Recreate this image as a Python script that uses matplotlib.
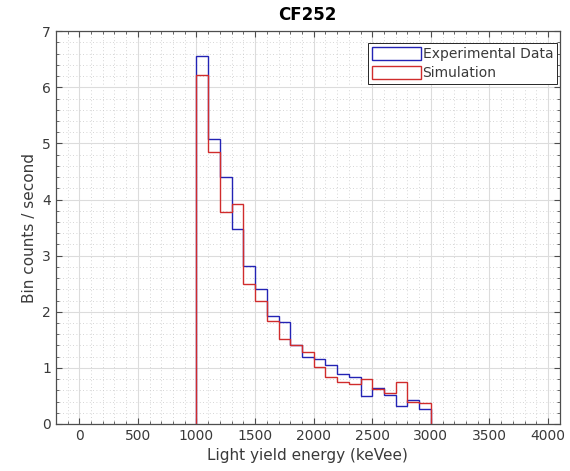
import numpy as np
import matplotlib
matplotlib.use("Agg")
import matplotlib.pyplot as plt
from matplotlib.patches import Patch
from matplotlib.ticker import MultipleLocator

# bin edges (keVee) and per-bin rates
bin_edges = [1000, 1100, 1200, 1300, 1400, 1500, 1600, 1700, 1800, 1900, 2000,
             2100, 2200, 2300, 2400, 2500, 2600, 2700, 2800, 2900, 3000]
experimental = [6.55, 5.07, 4.40, 3.47, 2.82, 2.40, 1.93, 1.82, 1.40, 1.20,
                1.16, 1.05, 0.89, 0.84, 0.49, 0.65, 0.52, 0.32, 0.42, 0.26]
simulation = [6.22, 4.84, 3.78, 3.92, 2.49, 2.20, 1.84, 1.51, 1.40, 1.28,
              1.01, 0.84, 0.75, 0.71, 0.80, 0.62, 0.56, 0.75, 0.40, 0.37]

blue = "#2323b4"
red = "#d02c2c"
axcol = "#3a3a3a"

fig = plt.figure(figsize=(5.7, 4.71), dpi=100)
ax = fig.add_axes([0.098, 0.0998, 0.884, 0.834])

ax.stairs(experimental, bin_edges, baseline=0, color=blue, linewidth=1.0)
ax.stairs(simulation, bin_edges, baseline=0, color=red, linewidth=1.0)

ax.set_xlim(-200, 4100)
ax.set_ylim(0, 7)
ax.xaxis.set_major_locator(MultipleLocator(500))
ax.xaxis.set_minor_locator(MultipleLocator(100))
ax.yaxis.set_major_locator(MultipleLocator(1))
ax.yaxis.set_minor_locator(MultipleLocator(0.2))

ax.grid(which="major", color="#dcdcdc", linewidth=0.8)
ax.grid(which="minor", color="#c8c8c8", linestyle=(0, (1, 3)), linewidth=0.6)
ax.set_axisbelow(True)

ax.tick_params(which="both", direction="in", top=True, right=True,
               color="#4d4d4d", labelcolor=axcol, labelsize=10)
ax.tick_params(which="major", length=4, width=0.8)
ax.tick_params(which="minor", length=2, width=0.6)
for s in ax.spines.values():
    s.set_color("#4d4d4d")
    s.set_linewidth(0.9)

ax.set_xlabel("Light yield energy (keVee)", fontsize=11, color=axcol)
ax.set_ylabel("Bin counts / second", fontsize=11, color=axcol)
ax.set_title("CF252", fontsize=12, fontweight="bold", color="black", pad=8)

handles = [Patch(facecolor="white", edgecolor=blue, linewidth=1.0),
           Patch(facecolor="white", edgecolor=red, linewidth=1.0)]
leg = ax.legend(handles, ["Experimental Data", "Simulation"], loc="upper right",
                fontsize=10, fancybox=False, framealpha=1, edgecolor="#262626",
                handlelength=3.5, handleheight=1.1, borderpad=0.25,
                labelspacing=0.35, handletextpad=0.15, borderaxespad=0,
                bbox_to_anchor=(0.994, 0.969))
leg.get_frame().set_linewidth(0.7)
for t in leg.get_texts():
    t.set_color(axcol)

fig.savefig("out.png", dpi=100)
